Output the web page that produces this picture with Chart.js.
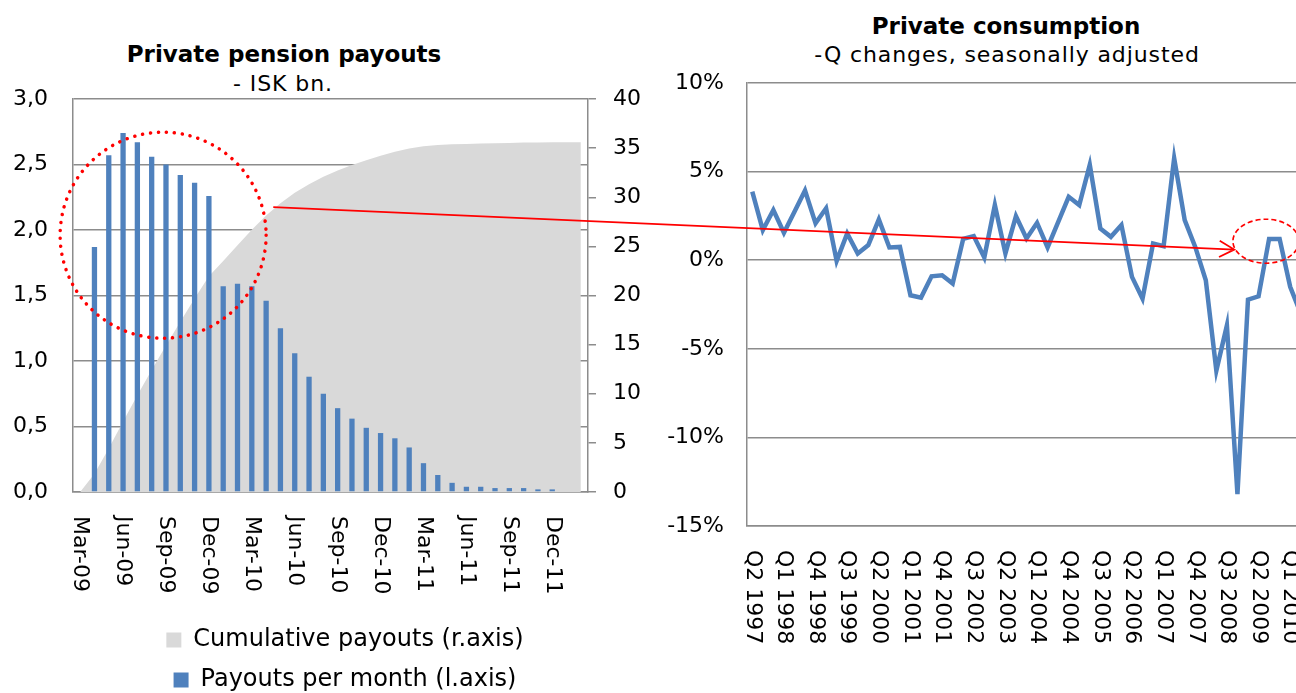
<!DOCTYPE html>
<html>
<head>
<meta charset="utf-8">
<script src="https://cdn.jsdelivr.net/npm/chart.js@4.4.0/dist/chart.umd.min.js"></script>
<style>
  html, body { margin: 0; padding: 0; background: #fff; overflow: hidden; width: 1296px; height: 693px; position: relative; }
  .titulo { position: absolute; font-family: "DejaVu Sans", Verdana, sans-serif; color: #000; white-space: nowrap; transform: translateX(-50%); }
  .t1 { font-weight: bold; font-size: 23px; line-height: 27px; }
  .t2 { font-size: 22px; line-height: 26px; letter-spacing: 0.9px; }
  #izq { position: absolute; left: 0; top: 0; }
  #der { position: absolute; left: 650px; top: 0; }
  #notas { position: absolute; left: 0; top: 0; pointer-events: none; }
</style>
</head>
<body>
<div class="titulo t1" style="left:284px; top:41px">Private pension payouts</div>
<div class="titulo t2" style="left:283px; top:71px">- ISK bn.</div>
<div class="titulo t1" style="left:1006px; top:13px">Private consumption</div>
<div class="titulo t2" style="left:1007px; top:42px">-Q changes, seasonally adjusted</div>
<canvas id="izq" width="690" height="702"></canvas>
<canvas id="der" width="656" height="693"></canvas>
<canvas id="notas" width="1296" height="693"></canvas>
<script>
// 🔹 Datos: pagos de pensiones privadas (mensual)
const meses = ['Mar-09', 'Apr-09', 'May-09', 'Jun-09', 'Jul-09', 'Aug-09', 'Sep-09', 'Oct-09', 'Nov-09', 'Dec-09',
    'Jan-10', 'Feb-10', 'Mar-10', 'Apr-10', 'May-10', 'Jun-10', 'Jul-10', 'Aug-10', 'Sep-10', 'Oct-10', 'Nov-10', 'Dec-10',
    'Jan-11', 'Feb-11', 'Mar-11', 'Apr-11', 'May-11', 'Jun-11', 'Jul-11', 'Aug-11', 'Sep-11', 'Oct-11', 'Nov-11', 'Dec-11',
    'Jan-12', 'Feb-12'];
const pagosMes = [null, 1.87, 2.57, 2.74, 2.67, 2.56, 2.50, 2.42, 2.36, 2.26, 1.57, 1.59, 1.57, 1.46, 1.25, 1.06, 0.88,
    0.75, 0.64, 0.56, 0.49, 0.45, 0.41, 0.34, 0.22, 0.13, 0.07, 0.04, 0.04, 0.03, 0.03, 0.03, 0.02, 0.02, null, null];
const pagosAcumulados = [0, 1.87, 4.44, 7.18, 9.85, 12.41, 14.91, 17.33, 19.69, 21.95, 23.52, 25.11, 26.68, 28.14, 29.39,
    30.45, 31.33, 32.08, 32.72, 33.28, 33.77, 34.22, 34.63, 34.97, 35.19, 35.32, 35.39, 35.43, 35.47, 35.50, 35.53,
    35.56, 35.58, 35.60, 35.60, 35.60];

// 🔹 Datos: consumo privado (cambio trimestral, %)
const trimestres = ['Q2 1997', 'Q3 1997', 'Q4 1997', 'Q1 1998', 'Q2 1998', 'Q3 1998', 'Q4 1998', 'Q1 1999', 'Q2 1999',
    'Q3 1999', 'Q4 1999', 'Q1 2000', 'Q2 2000', 'Q3 2000', 'Q4 2000', 'Q1 2001', 'Q2 2001', 'Q3 2001', 'Q4 2001',
    'Q1 2002', 'Q2 2002', 'Q3 2002', 'Q4 2002', 'Q1 2003', 'Q2 2003', 'Q3 2003', 'Q4 2003', 'Q1 2004', 'Q2 2004',
    'Q3 2004', 'Q4 2004', 'Q1 2005', 'Q2 2005', 'Q3 2005', 'Q4 2005', 'Q1 2006', 'Q2 2006', 'Q3 2006', 'Q4 2006',
    'Q1 2007', 'Q2 2007', 'Q3 2007', 'Q4 2007', 'Q1 2008', 'Q2 2008', 'Q3 2008', 'Q4 2008', 'Q1 2009', 'Q2 2009',
    'Q3 2009', 'Q4 2009', 'Q1 2010', 'Q2 2010'];
const consumo = [3.87, 1.70, 2.83, 1.55, 2.74, 3.93, 2.08, 2.93, -0.04, 1.51, 0.38, 0.85, 2.30, 0.72, 0.75, -1.98,
    -2.11, -0.91, -0.85, -1.32, 1.21, 1.36, 0.15, 3.11, 0.38, 2.49, 1.23, 2.11, 0.72, 2.15, 3.58, 3.11, 5.38, 1.79,
    1.32, 1.98, -0.94, -2.17, 0.94, 0.79, 5.76, 2.26, 0.75, -1.13, -6.23, -3.68, -13.2, -2.23, -2.04, 1.2, 1.2,
    -1.5, -3.0];

// 🔹 Anotaciones en rojo (en unidades de los ejes)
const circuloPico = { x: 5.8, y: 1.96, radio: 103 };
const flechaDesde = { x: 13.5, y: 29 };
const flechaHasta = { x: 45.7, y: 0.6 };
const elipsePico = { x: 48.7, y: 1.07, rx: 33, ry: 22 };

const gris = '#8c8c8c';
const azul = '#4F81BD';
const fuente = { family: '"DejaVu Sans", Verdana, sans-serif', size: 22 };

Chart.defaults.font.family = fuente.family;
Chart.defaults.color = '#000';

// 🔹 Etiquetas del eje x giradas hacia abajo
const etiquetasVerticales = {
    id: 'etiquetasVerticales',
    afterDraw(chart, args, opts) {
        const escala = chart.scales.x;
        const c = chart.ctx;
        c.save();
        c.font = fuente.size + 'px ' + fuente.family;
        c.fillStyle = '#000';
        c.textAlign = 'left';
        c.textBaseline = 'middle';
        escala.ticks.forEach((t, i) => {
            if (i % opts.cada !== 0) return;
            c.save();
            c.translate(escala.getPixelForTick(i), escala.top + opts.margen);
            c.rotate(Math.PI / 2);
            c.fillText(escala.getLabelForValue(t.value), 0, 0);
            c.restore();
        });
        c.restore();
    }
};

const graficaPensiones = new Chart(document.getElementById('izq'), {
    type: 'bar',
    data: {
        labels: meses,
        datasets: [{
            type: 'line',
            label: 'Cumulative payouts (r.axis)',
            data: pagosAcumulados,
            yAxisID: 'y1',
            backgroundColor: '#D9D9D9',
            borderColor: '#D9D9D9',
            borderWidth: 0,
            pointRadius: 0,
            fill: 'origin',
            order: 2
        }, {
            label: 'Payouts per month (l.axis)',
            data: pagosMes,
            yAxisID: 'y',
            backgroundColor: azul,
            barPercentage: 0.37,
            categoryPercentage: 1,
            order: 1
        }]
    },
    options: {
        responsive: false,
        animation: false,
        layout: { padding: { top: 99, left: 0, right: 0, bottom: 0 } },
        scales: {
            x: {
                grid: { display: false },
                border: { display: true, color: gris, width: 1.5 },
                ticks: { display: false },
                afterFit: (s) => { s.height = 120; }
            },
            y: {
                position: 'left',
                min: 0,
                max: 3,
                ticks: { stepSize: 0.5, padding: 25, font: fuente, color: '#000',
                    callback: (v) => v.toFixed(1).replace('.', ',') },
                grid: { color: gris, lineWidth: 1.5, drawTicks: false },
                border: { color: gris, width: 1.5 },
                afterFit: (s) => { s.width = 73; }
            },
            y1: {
                position: 'right',
                min: 0,
                max: 40,
                ticks: { stepSize: 5, padding: 17, font: fuente, color: '#000' },
                grid: { drawOnChartArea: false, drawTicks: true, tickLength: 8, color: gris, lineWidth: 1.5 },
                border: { color: gris, width: 1.5 },
                afterFit: (s) => { s.width = 102; }
            }
        },
        plugins: {
            legend: {
                position: 'bottom',
                labels: {
                    font: { family: fuente.family, size: 24 },
                    color: '#000',
                    boxWidth: 15,
                    boxHeight: 15,
                    padding: 16,
                    sort: (a, b) => a.datasetIndex - b.datasetIndex
                }
            },
            tooltip: { enabled: false },
            etiquetasVerticales: { cada: 3, margen: 24 }
        }
    },
    plugins: [etiquetasVerticales]
});

const graficaConsumo = new Chart(document.getElementById('der'), {
    type: 'line',
    data: {
        labels: trimestres,
        datasets: [{
            label: 'Private consumption',
            data: consumo,
            borderColor: azul,
            borderWidth: 4.5,
            pointRadius: 0,
            tension: 0,
            fill: false
        }]
    },
    options: {
        responsive: false,
        animation: false,
        layout: { padding: { top: 83, left: 0, right: 0, bottom: 0 } },
        scales: {
            x: {
                offset: true,
                grid: { display: false },
                border: { display: true, color: gris, width: 1.5 },
                ticks: { display: false },
                afterFit: (s) => { s.height = 167; }
            },
            y: {
                min: -15,
                max: 10,
                ticks: { stepSize: 5, padding: 23, font: fuente, color: '#000', callback: (v) => v + '%' },
                grid: { color: gris, lineWidth: 1.5, drawTicks: false },
                border: { color: gris, width: 1.5 },
                afterFit: (s) => { s.width = 97; }
            }
        },
        plugins: {
            legend: { display: false },
            tooltip: { enabled: false },
            etiquetasVerticales: { cada: 3, margen: 24 }
        }
    },
    plugins: [etiquetasVerticales]
});

// 🔹 Círculo, flecha y elipse sobre ambas gráficas
function dibujarNotas() {
    const lienzo = document.getElementById('notas');
    const c = lienzo.getContext('2d');
    const izq = graficaPensiones, der = graficaConsumo;
    const oxI = izq.canvas.offsetLeft, oyI = izq.canvas.offsetTop;
    const oxD = der.canvas.offsetLeft, oyD = der.canvas.offsetTop;

    c.strokeStyle = '#ff0000';

    // círculo punteado
    const cx = oxI + izq.scales.x.getPixelForValue(circuloPico.x);
    const cy = oyI + izq.scales.y.getPixelForValue(circuloPico.y);
    c.save();
    c.lineWidth = 3.5;
    c.lineCap = 'round';
    c.setLineDash([0.1, 7.9]);
    c.beginPath();
    c.arc(cx, cy, circuloPico.radio, 0, Math.PI * 2);
    c.stroke();
    c.restore();

    // flecha
    const x1 = oxI + izq.scales.x.getPixelForValue(flechaDesde.x);
    const y1 = oyI + izq.scales.y1.getPixelForValue(flechaDesde.y);
    const x2 = oxD + der.scales.x.getPixelForValue(flechaHasta.x);
    const y2 = oyD + der.scales.y.getPixelForValue(flechaHasta.y);
    const ang = Math.atan2(y2 - y1, x2 - x1);
    c.save();
    c.lineWidth = 1.8;
    c.beginPath();
    c.moveTo(x1, y1);
    c.lineTo(x2, y2);
    c.moveTo(x2 - 17 * Math.cos(ang - 0.5), y2 - 17 * Math.sin(ang - 0.5));
    c.lineTo(x2, y2);
    c.lineTo(x2 - 17 * Math.cos(ang + 0.5), y2 - 17 * Math.sin(ang + 0.5));
    c.stroke();
    c.restore();

    // elipse discontinua
    const ex = oxD + der.scales.x.getPixelForValue(elipsePico.x);
    const ey = oyD + der.scales.y.getPixelForValue(elipsePico.y);
    c.save();
    c.lineWidth = 1.6;
    c.setLineDash([5, 3]);
    c.beginPath();
    c.ellipse(ex, ey, elipsePico.rx, elipsePico.ry, 0, 0, Math.PI * 2);
    c.stroke();
    c.restore();
}

dibujarNotas();
</script>
</body>
</html>
